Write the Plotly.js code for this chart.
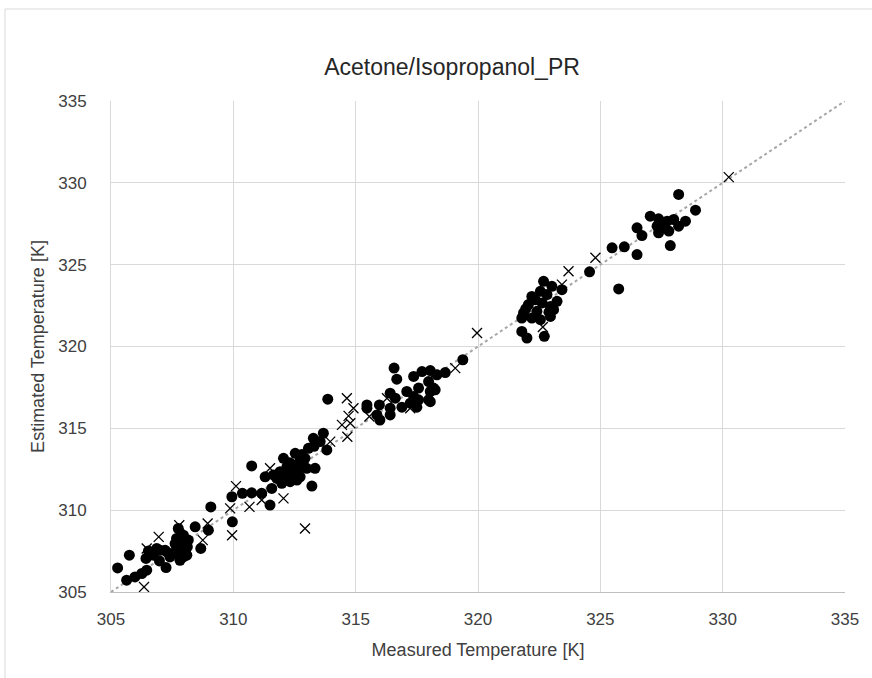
<!DOCTYPE html>
<html>
<head>
<meta charset="utf-8">
<script src="https://cdn.plot.ly/plotly-3.0.1.min.js"></script>
<style>html,body{margin:0;padding:0;background:#fff;}#chart{width:872px;height:678px;}</style>
</head>
<body>
<div id="chart"></div>
<script>
// Measured vs estimated temperature [K] – filled circles series
const circleMeasured = [
  305.27,305.75,305.64,305.98,306.26,306.46,306.43,306.53,306.87,306.98,307.25,307.21,307.41,307.62,307.75,307.82,307.96,308.03,308.10,307.82,
  307.55,308.16,307.75,308.44,308.67,308.98,309.08,309.96,307.68,307.89,307.96,308.12,307.28,307.00,306.73,307.68,307.90,308.05,
  309.94,310.37,310.75,311.16,311.50,311.57,313.86,313.68,313.27,313.07,313.82,313.55,313.30,310.75,312.05,312.53,312.73,313.00,313.34,
  311.30,311.64,311.91,312.19,312.46,312.32,312.60,312.19,312.46,312.80,313.21,311.98,311.78,312.73,312.93,312.30,312.60,312.00,312.80,
  316.57,316.68,317.37,317.71,318.05,318.32,318.66,319.38,317.98,317.57,318.18,317.09,316.41,316.62,317.37,317.57,317.98,318.05,318.25,
  315.46,315.97,316.41,316.89,317.50,318.05,315.87,315.99,316.41,315.46,317.23,
  322.68,322.55,323.02,323.43,322.20,322.82,323.23,322.06,322.62,322.96,321.86,322.41,323.09,321.79,322.20,322.55,322.96,321.79,322.00,322.71,
  324.56,322.34,322.90,321.95,
  325.48,325.98,326.50,325.75,328.20,328.89,328.48,327.04,327.38,327.73,328.00,328.20,327.32,327.59,327.80,327.38,326.50,326.70,327.86
];
const circleEstimated = [
  306.47,307.25,305.72,305.92,306.13,306.33,307.05,307.51,307.66,306.90,306.49,307.55,307.14,307.96,308.27,307.55,308.47,307.86,307.25,306.94,
  307.35,308.17,308.88,308.98,307.66,308.78,310.20,309.29,307.76,308.06,307.14,307.76,307.45,307.55,307.25,308.27,307.40,307.60,
  310.82,311.03,311.06,311.03,310.31,311.33,316.78,314.70,314.39,313.78,313.68,314.19,313.90,312.70,313.17,313.47,313.07,312.56,312.56,
  312.04,312.15,312.35,312.04,312.25,311.74,311.84,312.65,312.76,312.65,311.47,311.64,311.94,312.04,313.17,312.90,312.50,312.20,313.40,
  318.68,318.00,318.17,318.47,318.53,318.27,318.41,319.19,317.86,317.46,317.46,317.25,317.15,316.84,316.94,316.74,316.74,317.25,317.35,
  316.43,316.43,316.23,316.29,316.29,316.63,315.82,315.51,315.82,316.23,316.54,
  323.98,323.37,323.68,323.47,323.06,323.17,322.76,322.56,322.66,322.45,322.05,322.15,322.25,321.74,321.74,321.64,321.84,320.92,320.52,320.62,
  324.56,322.86,322.10,322.30,
  326.03,326.09,325.62,323.52,329.29,328.33,327.66,327.96,327.80,327.66,327.76,327.35,327.35,327.25,327.05,326.95,327.25,326.78,326.17
];
// Cross series
const crossMeasured = [
  306.95,310.11,309.87,309.95,308.95,308.75,307.79,306.35,310.66,311.16,306.46,
  314.64,314.91,314.71,314.44,314.78,314.66,313.96,311.50,312.05,312.93,
  319.96,319.07,318.18,316.28,315.56,317.23,
  324.80,323.70,323.43,322.65,330.25
];
const crossEstimated = [
  308.37,311.47,310.11,308.47,309.19,308.17,309.08,305.31,310.20,310.62,307.66,
  316.84,316.23,315.76,315.21,315.31,314.49,314.19,312.56,310.72,308.88,
  320.82,318.68,318.27,316.84,315.72,316.23,
  325.42,324.60,323.78,321.19,330.35
];
// Parity line
const parityX = [305, 335];
const parityY = [305, 335];
const tickVals = [305, 310, 315, 320, 325, 330, 335];

const FONT = 'Liberation Sans, Arial, sans-serif';
const TXT = '#404040';

const traces = [
  {x: parityX, y: parityY, mode: 'lines', type: 'scatter', hoverinfo: 'skip',
   line: {color: '#a6a6a6', width: 2, dash: 'dot'}, showlegend: false},
  {x: circleMeasured, y: circleEstimated, mode: 'markers', type: 'scatter',
   marker: {symbol: 'circle', size: 11, color: '#000000'}, showlegend: false},
  {x: crossMeasured, y: crossEstimated, mode: 'markers', type: 'scatter',
   marker: {symbol: 'x-thin-open', size: 10, color: '#000000', line: {color: '#000000', width: 1.3}}, showlegend: false}
];

const layout = {
  width: 872, height: 678, autosize: false,
  paper_bgcolor: '#ffffff', plot_bgcolor: '#ffffff',
  margin: {l: 111, r: 27, t: 101, b: 86},
  font: {family: FONT, color: TXT},
  title: {text: 'Acetone/Isopropanol_PR', font: {family: FONT, size: 23, color: '#262626'},
          x: 452/872, xref: 'container', xanchor: 'center', y: 1 - 67/678, yref: 'container', yanchor: 'middle'},
  xaxis: {range: [305, 335], tickvals: tickVals, ticks: '', showgrid: true, gridcolor: '#d9d9d9', gridwidth: 1,
          zeroline: false, showline: true, linecolor: '#bfbfbf', linewidth: 1,
          tickfont: {family: FONT, size: 17, color: TXT}, ticklabelstandoff: 12,
          title: {text: 'Measured Temperature [K]', font: {family: FONT, size: 18, color: TXT}, standoff: 14}},
  yaxis: {range: [305, 335], tickvals: tickVals, ticks: '', showgrid: true, gridcolor: '#d9d9d9', gridwidth: 1,
          zeroline: false, showline: true, linecolor: '#d9d9d9', linewidth: 1,
          tickfont: {family: FONT, size: 17, color: TXT}, ticklabelstandoff: 20,
          title: {text: 'Estimated Temperature [K]', font: {family: FONT, size: 18, color: TXT}, standoff: 8}},
  shapes: [
    {type: 'rect', xref: 'paper', yref: 'paper', x0: (5-111)/734, x1: 1.2, y0: -0.3, y1: (592-9)/491,
     line: {color: '#d9d9d9', width: 1}, fillcolor: 'rgba(0,0,0,0)', layer: 'below'}
  ]
};

Plotly.newPlot('chart', traces, layout, {staticPlot: true, displayModeBar: false});
</script>
</body>
</html>
